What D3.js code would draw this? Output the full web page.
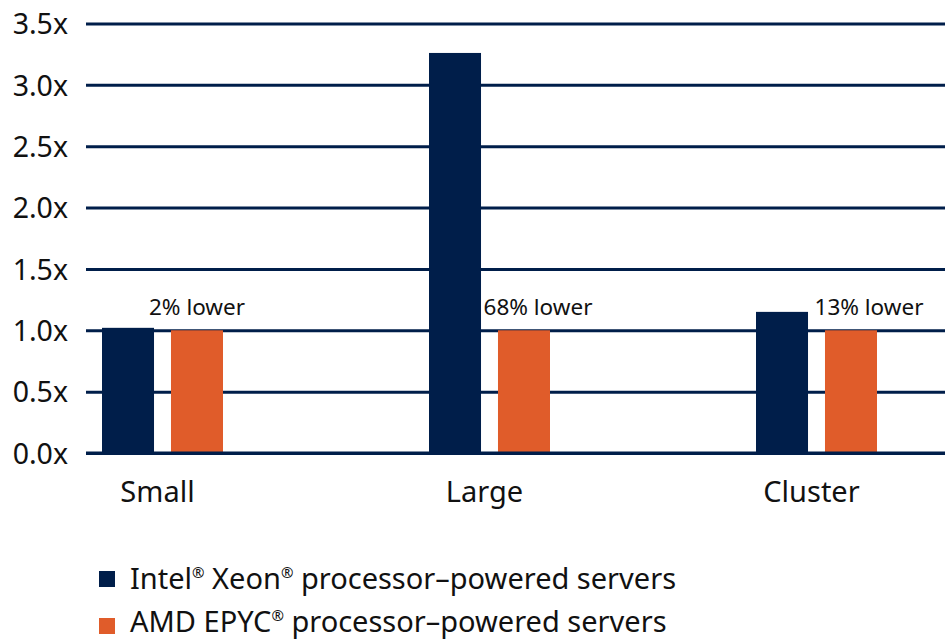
<!DOCTYPE html>
<html>
<head>
<meta charset="utf-8">
<script src="https://cdn.jsdelivr.net/npm/d3@7"></script>
<style>
  body { margin: 0; background: #fff; }
  text { font-family: "Noto Sans", "Open Sans", sans-serif; fill: #111; }
</style>
</head>
<body>
<div id="root"></div>
<script>
const categories = ["Small", "Large", "Cluster"];
const seriesNames = [["Intel", "®", " Xeon", "®", " processor–powered servers"],
  ["AMD EPYC", "®", " processor–powered servers"]];
const intelValues = [1.02, 3.26, 1.15];
const amdValues = [1.0, 1.0, 1.0];
const diffLabels = ["2% lower", "68% lower", "13% lower"];
const yTicks = [0, 0.5, 1.0, 1.5, 2.0, 2.5, 3.0, 3.5];

const w = 945;
const h = 641;
const colors = ["#001e4a", "#e05c2a"];

const svg = d3.select("#root")
  .append("svg")
  .attr("width", w)
  .attr("height", h);

const xScale = d3.scaleBand()
  .domain(categories)
  .range([-1, 980]);

const xInner = d3.scaleBand()
  .domain([0, 1])
  .range([-60.5, 60.5])
  .paddingInner(0.246);

const yScale = d3.scaleLinear()
  .domain([0, 3.5])
  .range([453, 23.5]);

// gridlines + tick labels
const yAxis = d3.axisLeft(yScale)
  .tickValues(yTicks)
  .tickSize(-(w - 86))
  .tickFormat(d => d3.format(".1f")(d) + "x");

svg.append("g")
  .attr("id", "y-axis")
  .attr("transform", "translate(86,0)")
  .call(yAxis)
  .call(g => g.select(".domain").remove())
  .call(g => g.selectAll(".tick line")
    .attr("stroke", "#001e4a")
    .attr("stroke-width", 3))
  .call(g => g.selectAll(".tick text")
    .attr("x", -18)
    .attr("dy", "0.36em")
    .attr("font-size", 28.5)
    .attr("fill", "#111"));

const groups = svg.selectAll(".group")
  .data(categories)
  .enter()
  .append("g")
  .attr("class", "group")
  .attr("transform", d => `translate(${xScale(d) + xScale.bandwidth() / 2},0)`);

groups.append("rect")
  .attr("x", xInner(0))
  .attr("y", (d, i) => yScale(intelValues[i]))
  .attr("width", xInner.bandwidth())
  .attr("height", (d, i) => yScale(0) - yScale(intelValues[i]))
  .attr("fill", colors[0]);

groups.append("rect")
  .attr("x", xInner(1))
  .attr("y", (d, i) => yScale(amdValues[i]))
  .attr("width", xInner.bandwidth())
  .attr("height", (d, i) => yScale(0) - yScale(amdValues[i]))
  .attr("fill", colors[1]);

// baseline on top
svg.append("line")
  .attr("x1", 86)
  .attr("x2", w)
  .attr("y1", yScale(0))
  .attr("y2", yScale(0))
  .attr("stroke", "#001e4a")
  .attr("stroke-width", 3);

const labelShift = [0, 14, 18];
groups.append("text")
  .attr("x", (d, i) => xInner(1) + xInner.bandwidth() / 2 + labelShift[i])
  .attr("y", (d, i) => yScale(amdValues[i]) - 15)
  .attr("text-anchor", "middle")
  .attr("font-size", 22.5)
  .text((d, i) => diffLabels[i]);

groups.append("text")
  .attr("x", -5)
  .attr("y", 502)
  .attr("text-anchor", "middle")
  .attr("font-size", 29)
  .text(d => d);

// legend
const legend = svg.append("g").attr("id", "legend");

legend.selectAll("rect")
  .data(seriesNames)
  .enter()
  .append("rect")
  .attr("x", 99)
  .attr("y", (d, i) => 571 + 47 * i)
  .attr("width", 16)
  .attr("height", 16)
  .attr("fill", (d, i) => colors[i]);

const legendText = legend.selectAll("text")
  .data(seriesNames)
  .enter()
  .append("text")
  .attr("x", 130)
  .attr("y", (d, i) => 589 + 43 * i)
  .attr("font-size", 29);

legendText.selectAll("tspan")
  .data(d => d)
  .enter()
  .append("tspan")
  .attr("font-size", s => s === "®" ? 15 : null)
  .attr("dy", (s, j, nodes) => s === "®" ? -11 : (j > 0 && nodes[j - 1].__data__ === "®" ? 11 : 0))
  .text(s => s);
</script>
</body>
</html>
